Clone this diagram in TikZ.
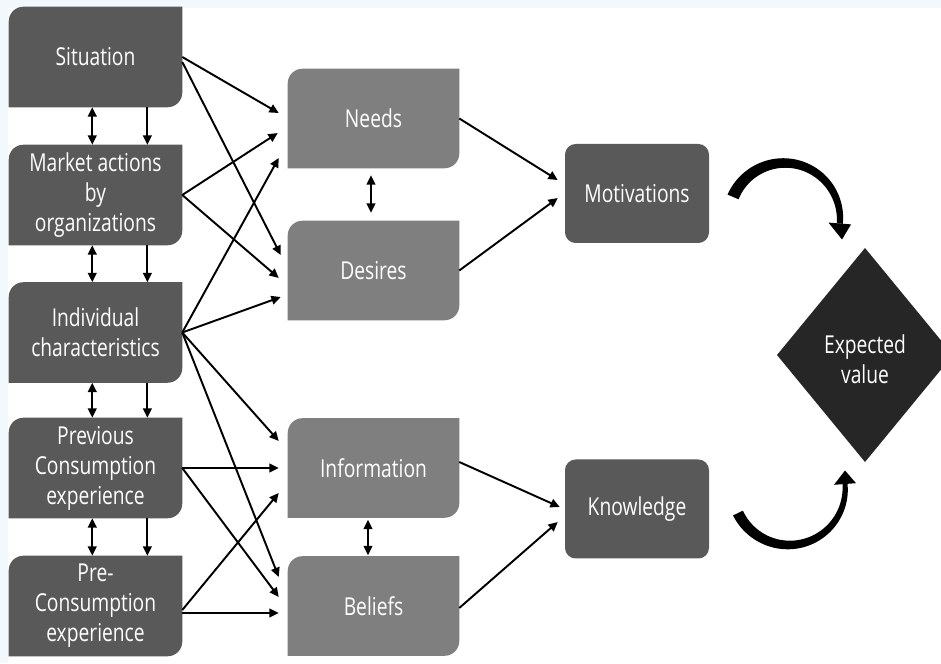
\documentclass[tikz,border=0pt]{standalone}
\usepackage{fontspec}
\setmainfont{Open Sans}[FakeStretch=0.78]
\usetikzlibrary{arrows.meta,backgrounds}

\definecolor{leafdark}{HTML}{595959}
\definecolor{leafmid}{HTML}{7F7F7F}
\definecolor{corefill}{HTML}{262626}
\definecolor{pagetint}{HTML}{F3F8FD}

% box with rounded top-left and bottom-right corners, filled behind a named node
\newcommand\leafshape[2]{%
  \fill[#2] (#1.south west) -- ([yshift=-11pt]#1.north west)
    arc[start angle=180,end angle=90,radius=11pt] -- (#1.north east)
    -- ([yshift=11pt]#1.south east)
    arc[start angle=0,end angle=-90,radius=11pt] -- cycle;}

\begin{document}
\begin{tikzpicture}[x=0.75pt,y=0.75pt,
  boxtext/.style={text=white, font=\fontsize{18.5}{22.5}\selectfont, align=center, inner sep=0pt},
  leftbox/.style={boxtext, minimum width=129.75pt, minimum height=75pt},
  midbox/.style={boxtext, minimum width=128.25pt, minimum height=74.25pt},
  roundbox/.style={boxtext, minimum width=108pt, minimum height=74.25pt, rounded corners=8pt, fill=leafdark},
  tip/.tip={Triangle[length=7pt,width=6.5pt]},
  link/.style={line width=1.45pt, -tip},
  twoway/.style={line width=1.45pt, tip-tip},
]
\useasboundingbox (0,0) rectangle (941,663);

% left column: antecedents
\node[leftbox] (sit)  at (95.5,606)   {Situation};
\node[leftbox] (mkt)  at (95.5,468)   {Market actions\\by\\organizations};
\node[leftbox] (ind)  at (95.5,330.5) {Individual\\characteristics};
\node[leftbox] (prev) at (95.5,195)   {Previous\\Consumption\\experience};
\node[leftbox] (pre)  at (95.5,57)    {Pre-\\Consumption\\experience};

% middle column
\node[midbox] (needs) at (373.5,544.5) {Needs};
\node[midbox] (des)   at (373.5,392.5) {Desires};
\node[midbox] (info)  at (373.5,195)   {Information};
\node[midbox] (bel)   at (373.5,57)    {Beliefs};

% right column
\node[roundbox] (mot)  at (637,469.5) {Motivations};
\node[roundbox] (know) at (637,154)   {Knowledge};

% result
\node[boxtext] (ev) at (865,304) {Expected\\value};

\begin{scope}[on background layer]
  \fill[pagetint] (0,0) rectangle (941,663);
  \fill[white] (8,0) rectangle (941,655);
  \leafshape{sit}{leafdark}
  \leafshape{mkt}{leafdark}
  \leafshape{ind}{leafdark}
  \leafshape{prev}{leafdark}
  \leafshape{pre}{leafdark}
  \leafshape{needs}{leafmid}
  \leafshape{des}{leafmid}
  \leafshape{info}{leafmid}
  \leafshape{bel}{leafmid}
  \fill[corefill] (777,308) -- (865,415) -- (953,308) -- (865,201) -- cycle;
\end{scope}

% links between neighbouring antecedents
\foreach \a/\b in {sit/mkt, mkt/ind, ind/prev, prev/pre} {
  \draw[twoway] ([xshift=-2.4pt]\a.south) -- ([xshift=-2.4pt]\b.north);
  \draw[link] ([xshift=38.9pt]\a.south) -- ([xshift=38.9pt]\b.north);
}

% antecedents to needs / desires
\draw[link] (sit.east) -- ([xshift=-6.75pt,yshift=4.1pt]needs.west);
\draw[link] ([yshift=-3.75pt]sit.east) -- ([xshift=-5.25pt,yshift=11.6pt]des.west);
\draw[link] (mkt.east) -- ([xshift=-7.5pt,yshift=-10.9pt]needs.west);
\draw[link] (mkt.east) -- ([xshift=-6.75pt,yshift=-5.6pt]des.west);
\draw[link] (ind.east) -- ([xshift=-6.75pt,yshift=-29.6pt]needs.west);
\draw[link] (ind.east) -- ([xshift=-5.25pt,yshift=-19.9pt]des.west);

% antecedents to information / beliefs
\draw[link] (ind.east) -- ([xshift=-6.75pt,yshift=20.25pt]info.west);
\draw[link] (ind.east) -- ([xshift=-6.75pt,yshift=21.75pt]bel.west);
\draw[link] (prev.east) -- ([xshift=-6.75pt]info.west);
\draw[link] (prev.east) -- ([xshift=-6.75pt,yshift=6.75pt]bel.west);
\draw[link] ([yshift=-3pt]pre.east) -- ([xshift=-6.75pt,yshift=-18.75pt]info.west);
\draw[link] ([yshift=-5.25pt]pre.east) -- ([xshift=-6.75pt,yshift=-5.25pt]bel.west);

% within the middle column
\draw[twoway] ([xshift=-1.9pt,yshift=-5.25pt]needs.south) -- ([xshift=-1.9pt,yshift=6pt]des.north);
\draw[twoway] ([xshift=-4.1pt,yshift=-1.5pt]info.south) -- ([xshift=-4.1pt,yshift=0.75pt]bel.north);

% middle to right column
\draw[link] (needs.east) -- ([xshift=-5.25pt,yshift=10.1pt]mot.west);
\draw[link] (des.east) -- ([xshift=-5.25pt,yshift=-3.4pt]mot.west);
\draw[link] ([yshift=4.5pt]info.east) -- ([xshift=-3.75pt,yshift=1.5pt]know.west);
\draw[link] ([yshift=-1.5pt]bel.east) -- ([xshift=-5.25pt,yshift=-9.75pt]know.west);

% curved block arrows into the expected value
\fill[black] plot[domain=157:-5, samples=60, variable=\t]
    ({784.3+(55.7+(3+3*(\t+5)/162))*cos(\t)}, {444.3+(55.7+(3+3*(\t+5)/162))*sin(\t)})
  -- plot[domain=-5:157, samples=60, variable=\t]
    ({784.3+(55.7-(3+3*(\t+5)/162))*cos(\t)}, {444.3+(55.7-(3+3*(\t+5)/162))*sin(\t)})
  -- cycle;
\fill[black] (851,438.6) -- (842,423.5) -- (828.5,440.4) -- cycle;

\fill[black] plot[domain=205.7:364.7, samples=60, variable=\t]
    ({788.8+(56.4+(2.5+3*(364.7-\t)/159))*cos(\t)}, {174.4+(56.4+(2.5+3*(364.7-\t)/159))*sin(\t)})
  -- plot[domain=364.7:205.7, samples=60, variable=\t]
    ({788.8+(56.4-(2.5+3*(364.7-\t)/159))*cos(\t)}, {174.4+(56.4-(2.5+3*(364.7-\t)/159))*sin(\t)})
  -- cycle;
\fill[black] (856,179.8) -- (845,192.5) -- (834,178.2) -- cycle;
\end{tikzpicture}
\end{document}
